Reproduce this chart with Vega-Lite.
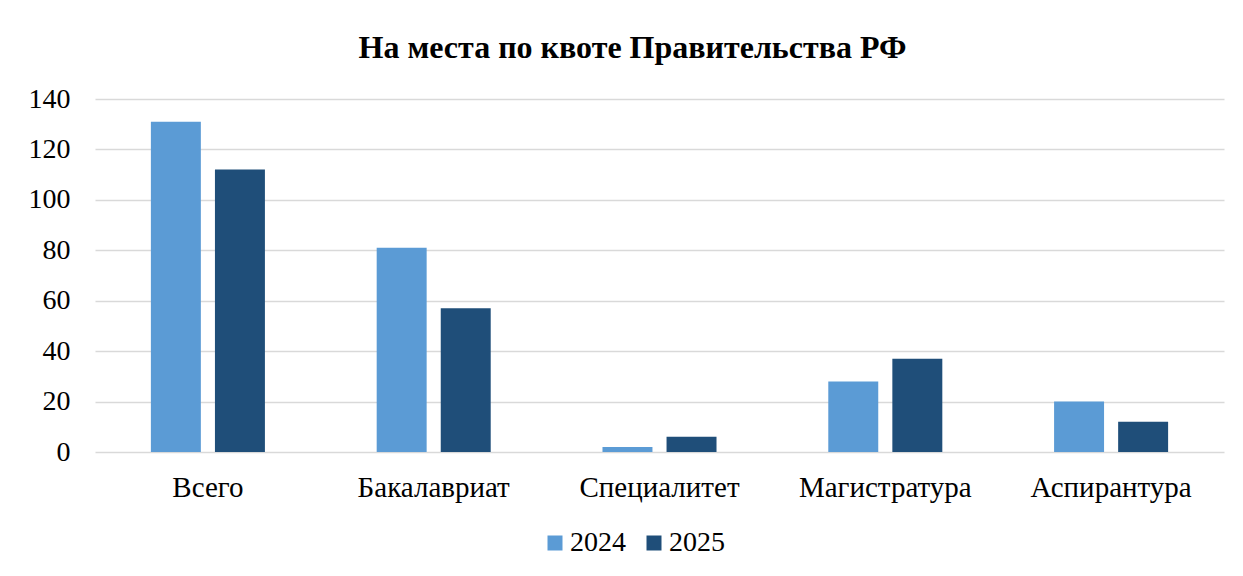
{
  "$schema": "https://vega.github.io/schema/vega-lite/v6.json",
  "width": 1129,
  "height": 353,
  "autosize": {"type": "none"},
  "padding": {"left": 95, "top": 99, "right": 19, "bottom": 124},
  "background": "white",
  "title": {
    "text": "На места по квоте Правительства РФ",
    "font": "Liberation Serif",
    "fontSize": 32,
    "fontWeight": "bold",
    "color": "#000000",
    "anchor": "middle",
    "dx": -27,
    "offset": 20
  },
  "data": {
    "values": [
      {"category": "Всего", "year": "2024", "value": 131},
      {"category": "Всего", "year": "2025", "value": 112},
      {"category": "Бакалавриат", "year": "2024", "value": 81},
      {"category": "Бакалавриат", "year": "2025", "value": 57},
      {"category": "Специалитет", "year": "2024", "value": 2},
      {"category": "Специалитет", "year": "2025", "value": 6},
      {"category": "Магистратура", "year": "2024", "value": 28},
      {"category": "Магистратура", "year": "2025", "value": 37},
      {"category": "Аспирантура", "year": "2024", "value": 20},
      {"category": "Аспирантура", "year": "2025", "value": 12}
    ]
  },
  "mark": {"type": "bar"},
  "encoding": {
    "x": {
      "field": "category",
      "type": "nominal",
      "sort": ["Всего", "Бакалавриат", "Специалитет", "Магистратура", "Аспирантура"],
      "scale": {"paddingInner": 0.495, "paddingOuter": 0.2475},
      "axis": {
        "title": null,
        "labelAngle": 0,
        "labelFont": "'Liberation Serif', 'Times New Roman', serif",
        "labelFontWeight": "normal",
        "labelFontSize": 29,
        "labelColor": "#000000",
        "labelPadding": 21,
        "ticks": false,
        "domain": false,
        "grid": false
      }
    },
    "xOffset": {
      "field": "year",
      "type": "nominal",
      "scale": {"paddingInner": 0.22, "paddingOuter": 0}
    },
    "y": {
      "field": "value",
      "type": "quantitative",
      "scale": {"domain": [0, 140], "nice": false},
      "axis": {
        "title": null,
        "values": [0, 20, 40, 60, 80, 100, 120, 140],
        "labelFont": "'Liberation Serif', 'Times New Roman', serif",
        "labelFontWeight": "normal",
        "labelFontSize": 28,
        "labelColor": "#000000",
        "labelPadding": 25,
        "ticks": false,
        "domain": false,
        "grid": true,
        "gridColor": "#d9d9d9",
        "gridWidth": 1.5
      }
    },
    "color": {
      "field": "year",
      "type": "nominal",
      "scale": {"domain": ["2024", "2025"], "range": ["#5b9bd5", "#1f4e79"]},
      "legend": {
        "title": null,
        "orient": "none",
        "direction": "horizontal",
        "legendX": 446,
        "legendY": 430,
        "symbolType": "square",
        "symbolSize": 225,
        "symbolStrokeWidth": 0,
        "labelFont": "'Liberation Serif', 'Times New Roman', serif",
        "labelFontSize": 28,
        "labelColor": "#000000",
        "labelOffset": 1,
        "columnPadding": 14
      }
    }
  },
  "config": {
    "font": "Liberation Serif",
    "view": {"stroke": null}
  }
}
